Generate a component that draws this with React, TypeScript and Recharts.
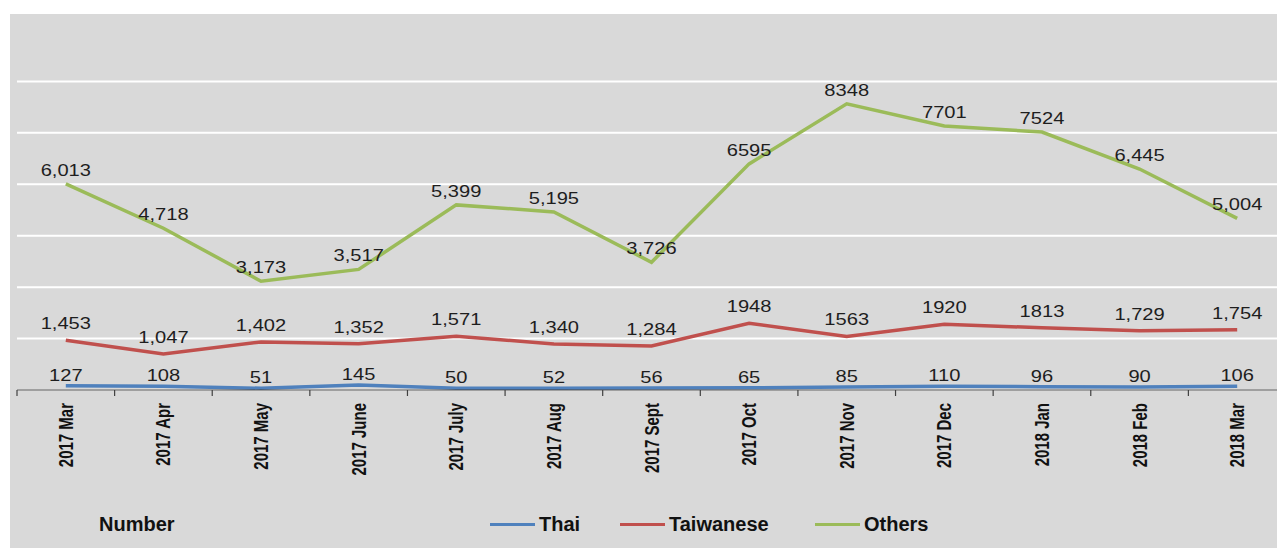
import { LineChart, Line, XAxis, YAxis, CartesianGrid, LabelList } from 'recharts';

const months = [
  '2017 Mar', '2017 Apr', '2017 May', '2017 June', '2017 July', '2017 Aug', '2017 Sept',
  '2017 Oct', '2017 Nov', '2017 Dec', '2018 Jan', '2018 Feb', '2018 Mar'
];

const thai = [127, 108, 51, 145, 50, 52, 56, 65, 85, 110, 96, 90, 106];
const taiwanese = [1453, 1047, 1402, 1352, 1571, 1340, 1284, 1948, 1563, 1920, 1813, 1729, 1754];
const others = [6013, 4718, 3173, 3517, 5399, 5195, 3726, 6595, 8348, 7701, 7524, 6445, 5004];

// label text as printed on the source (commas are not consistent there)
const thaiLabels = ['127', '108', '51', '145', '50', '52', '56', '65', '85', '110', '96', '90', '106'];
const taiwaneseLabels = ['1,453', '1,047', '1,402', '1,352', '1,571', '1,340', '1,284', '1948', '1563', '1920', '1813', '1,729', '1,754'];
const othersLabels = ['6,013', '4,718', '3,173', '3,517', '5,399', '5,195', '3,726', '6595', '8348', '7701', '7524', '6,445', '5,004'];

const yTicks = [0, 1500, 3000, 4500, 6000, 7500, 9000];

const data = months.map((month, i) => ({
  month,
  thai: thai[i],
  taiwanese: taiwanese[i],
  others: others[i],
  thaiLabel: thaiLabels[i],
  taiwaneseLabel: taiwaneseLabels[i],
  othersLabel: othersLabels[i]
}));

const COLORS = { thai: '#4f81bd', taiwanese: '#c0504d', others: '#9bbb59' };
const FONT = '"Liberation Sans", Arial, sans-serif';

const CHART_W = 1290;
const CHART_H = 534;
const MARGIN = { top: 16, right: 14, bottom: 58, left: 7 };
const BAND = (CHART_W - MARGIN.left - MARGIN.right) / months.length;

// the source image is stretched sideways, so glyphs are widened a bit
const MonthTick = ({ x, y, payload }: any) => (
  <g transform={`translate(${x},${y})`}>
    <line x1={-BAND / 2} y1={0} x2={-BAND / 2} y2={6} stroke="#404040" strokeWidth={1.2} />
    <text
      x={0}
      y={0}
      dy="0.36em"
      transform="translate(0,13) rotate(-90) scale(1,1.3)"
      textAnchor="end"
      fontSize={15}
      fontWeight="bold"
      fontFamily={FONT}
      fill="#111"
    >
      {payload.value}
    </text>
  </g>
);

const makeLabel = (gap: number) => (props: any) => {
  const { x, y, value } = props;
  return (
    <text
      x={0}
      y={0}
      transform={`translate(${x},${y - gap}) scale(1.22,1)`}
      textAnchor="middle"
      fontSize={16.5}
      fontFamily={FONT}
      fill="#1e1e1e"
    >
      {value}
    </text>
  );
};

export default function App() {
  const legend = [
    { name: 'Thai', color: COLORS.thai, left: 490 },
    { name: 'Taiwanese', color: COLORS.taiwanese, left: 620 },
    { name: 'Others', color: COLORS.others, left: 815 }
  ];

  return (
    <div style={{ position: 'absolute', left: 0, top: 0, width: 1277, height: 548, background: '#fff', overflow: 'hidden' }}>
      <div style={{ position: 'absolute', left: 10, top: 14, width: 1267, height: 534, background: '#d9d9d9', overflow: 'hidden' }}>
        <LineChart width={CHART_W} height={CHART_H} data={data} margin={MARGIN}>
          <CartesianGrid vertical={false} horizontalValues={yTicks} stroke="#ffffff" strokeWidth={2} />
          <XAxis
            dataKey="month"
            scale="band"
            height={100}
            interval={0}
            tickLine={false}
            tickSize={0}
            tickMargin={0}
            axisLine={{ stroke: '#404040', strokeWidth: 1.2 }}
            tick={<MonthTick />}
          />
          <YAxis hide domain={[0, 10500]} ticks={yTicks} />
          <Line type="linear" dataKey="thai" stroke={COLORS.thai} strokeWidth={3.5} dot={false} isAnimationActive={false}>
            <LabelList dataKey="thaiLabel" content={makeLabel(5)} />
          </Line>
          <Line type="linear" dataKey="taiwanese" stroke={COLORS.taiwanese} strokeWidth={3.5} dot={false} isAnimationActive={false}>
            <LabelList dataKey="taiwaneseLabel" content={makeLabel(11)} />
          </Line>
          <Line type="linear" dataKey="others" stroke={COLORS.others} strokeWidth={3.5} dot={false} isAnimationActive={false}>
            <LabelList dataKey="othersLabel" content={makeLabel(8)} />
          </Line>
        </LineChart>
      </div>

      <div style={{ position: 'absolute', left: 99, top: 513, fontFamily: FONT, fontWeight: 'bold', fontSize: 20, color: '#111' }}>
        Number
      </div>
      {legend.map((item) => (
        <div
          key={item.name}
          style={{ position: 'absolute', left: item.left, top: 513, display: 'flex', alignItems: 'center', fontFamily: FONT, fontWeight: 'bold', fontSize: 20, color: '#111' }}
        >
          <span style={{ display: 'inline-block', width: 45, height: 3, background: item.color, marginRight: 4 }} />
          {item.name}
        </div>
      ))}
    </div>
  );
}
